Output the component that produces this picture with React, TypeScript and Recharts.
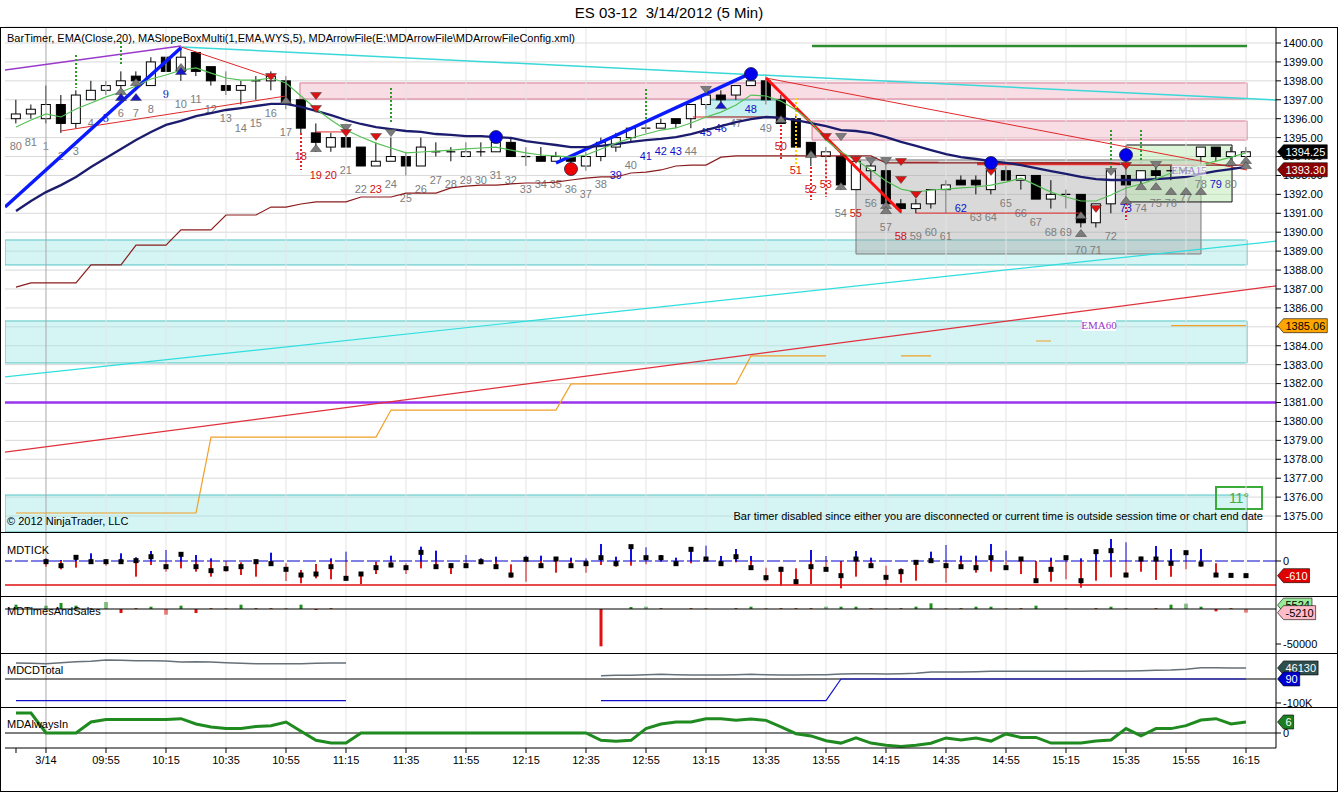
import React from 'react';
import {
  ComposedChart, Bar, Line, Scatter, XAxis, YAxis, CartesianGrid,
  ReferenceLine, ReferenceArea, ReferenceDot, Cell,
} from 'recharts';

const FONT = '"Liberation Sans", Arial, Helvetica, sans-serif';

// ---------- axis ranges ----------
const XMIN = -0.7333;
const XMAX = 84;
const YMIN = 1374.156;
const YMAX = 1400.846;

const PRICE_TICKS = [1375, 1376, 1377, 1378, 1379, 1380, 1381, 1382, 1383, 1384, 1385, 1386, 1387,
  1388, 1389, 1390, 1391, 1392, 1393, 1394, 1395, 1396, 1397, 1398, 1399, 1400];
const TIME_TICKS = [0, 2, 6, 10, 14, 18, 22, 26, 30, 34, 38, 42, 46, 50, 54, 58, 62, 66, 70, 74, 78, 82];
const TIME_LABELS = ['', '3/14', '09:55', '10:15', '10:35', '10:55', '11:15', '11:35', '11:55', '12:15',
  '12:35', '12:55', '13:15', '13:35', '13:55', '14:15', '14:35', '14:55', '15:15', '15:35', '15:55', '16:15'];
const GRID_X = [2, 6, 10, 14, 18, 22, 26, 30, 34, 38, 42, 46, 50, 54, 58, 62, 66, 70, 74, 78, 82];

// ---------- price bars ----------
const BAR_LABELS = ['80', '81', '1', '2', '3', '4', '5', '6', '7', '8', '9', '10', '11', '12', '13', '14', '15',
  '16', '17', '18', '19', '20', '21', '22', '23', '24', '25', '26', '27', '28', '29', '30', '31', '32', '33',
  '34', '35', '36', '37', '38', '39', '40', '41', '42', '43', '44', '45', '46', '47', '48', '49', '50', '51',
  '52', '53', '54', '55', '56', '57', '58', '59', '60', '61', '62', '63', '64', '65', '66', '67', '68', '69',
  '70', '71', '72', '73', '74', '75', '76', '77', '78', '79', '80', ''];
const BLUE_LABELS = ['5', '9', '39', '41', '42', '43', '45', '46', '48', '62', '73', '79'];
const RED_LABELS = ['18', '19', '20', '23', '50', '51', '52', '53', '55', '58'];

const BAR_OPEN = [1396.0, 1396.25, 1396.0, 1396.75, 1395.75, 1397.0, 1397.5, 1397.75, 1398.25, 1397.75,
  1399.25, 1398.5, 1399.5, 1398.75, 1397.75, 1397.5, 1398.0, 1398.0, 1398.0, 1397.0,
  1395.25, 1394.5, 1395.0, 1394.5, 1393.5, 1393.75, 1394.0, 1393.5, 1394.25, 1394.25,
  1394.0, 1394.25, 1394.25, 1394.75, 1394.0, 1394.0, 1393.75, 1394.0, 1393.5, 1394.0,
  1394.5, 1395.0, 1395.5, 1395.5, 1396.0, 1396.0, 1396.75, 1397.25, 1397.25, 1397.75,
  1398.0, 1397.0, 1396.0, 1394.75, 1394.0, 1394.0, 1392.25, 1393.25, 1393.25, 1391.5,
  1391.25, 1391.5, 1392.25, 1392.75, 1392.75, 1392.25, 1393.25, 1392.75, 1393.0, 1391.75,
  1392.0, 1392.0, 1390.5, 1391.5, 1393.0, 1392.75, 1393.25, 1393.25, 1393.25, 1394.0,
  1394.5, 1394.0, 1394.0];
const BAR_HIGH = [1397.0, 1396.75, 1397.75, 1397.25, 1397.5, 1398.0, 1398.0, 1398.5, 1398.5, 1399.25,
  1399.25, 1399.75, 1399.5, 1398.75, 1398.5, 1398.0, 1398.25, 1398.5, 1398.25, 1397.0,
  1395.75, 1395.25, 1395.25, 1394.5, 1394.75, 1395.0, 1394.25, 1395.0, 1394.75, 1394.5,
  1394.75, 1394.75, 1395.0, 1395.0, 1394.5, 1394.5, 1394.25, 1394.0, 1394.25, 1395.0,
  1395.25, 1395.5, 1395.75, 1396.0, 1396.0, 1396.75, 1397.5, 1397.5, 1397.75, 1398.25,
  1398.25, 1397.25, 1396.25, 1394.75, 1394.5, 1394.25, 1394.0, 1393.75, 1393.75, 1391.75,
  1391.75, 1392.25, 1392.75, 1393.0, 1393.0, 1393.5, 1393.5, 1393.0, 1393.0, 1392.75,
  1392.25, 1392.0, 1391.5, 1393.25, 1393.75, 1393.25, 1393.5, 1393.5, 1393.5, 1394.5,
  1394.5, 1394.5, 1394.5];
const BAR_LOW = [1395.75, 1396.0, 1395.75, 1395.25, 1395.5, 1397.0, 1397.25, 1397.5, 1397.5, 1397.75,
  1398.5, 1398.0, 1398.25, 1397.75, 1397.25, 1396.75, 1397.0, 1397.5, 1396.5, 1395.25,
  1394.25, 1394.25, 1394.5, 1393.5, 1393.5, 1393.75, 1393.0, 1393.5, 1394.0, 1393.75,
  1394.0, 1394.0, 1394.25, 1394.0, 1393.5, 1393.75, 1393.75, 1393.5, 1393.25, 1393.75,
  1394.25, 1394.75, 1395.25, 1395.5, 1395.5, 1395.5, 1396.5, 1396.75, 1397.0, 1397.75,
  1396.75, 1395.75, 1394.5, 1393.5, 1393.75, 1392.25, 1392.25, 1392.75, 1391.5, 1391.0,
  1391.0, 1391.25, 1391.0, 1392.5, 1392.0, 1392.0, 1392.75, 1392.25, 1391.75, 1391.25,
  1391.25, 1390.25, 1390.25, 1391.0, 1392.5, 1392.5, 1392.75, 1392.75, 1393.0, 1393.75,
  1393.75, 1393.75, 1393.75];
const BAR_CLOSE = [1396.25, 1396.5, 1396.75, 1395.75, 1397.25, 1397.5, 1397.75, 1398.0, 1398.0, 1399.0,
  1398.5, 1399.25, 1398.5, 1398.0, 1397.5, 1397.75, 1398.0, 1398.25, 1396.75, 1395.5,
  1394.75, 1395.0, 1394.5, 1393.5, 1393.75, 1394.0, 1393.5, 1394.5, 1394.25, 1394.25,
  1394.25, 1394.25, 1394.75, 1394.0, 1394.0, 1393.75, 1394.0, 1393.75, 1394.0, 1394.75,
  1395.0, 1395.5, 1395.5, 1395.75, 1395.75, 1396.75, 1397.25, 1397.0, 1397.75, 1398.0,
  1397.0, 1395.75, 1394.5, 1394.0, 1394.25, 1392.5, 1393.75, 1393.5, 1391.5, 1391.25,
  1391.5, 1392.25, 1392.5, 1392.5, 1392.5, 1393.25, 1392.75, 1393.0, 1391.75, 1392.0,
  1392.0, 1390.5, 1391.5, 1393.25, 1392.5, 1393.25, 1393.0, 1393.25, 1393.25, 1394.5,
  1394.0, 1394.25, 1394.25];

// ---------- main-panel indicator lines ----------
const EMA20 = [1391.12, 1391.65, 1392.12, 1392.49, 1392.92, 1393.45, 1393.92, 1394.40, 1394.87, 1395.30,
  1395.67, 1395.88, 1396.14, 1396.30, 1396.46, 1396.56, 1396.67, 1396.78, 1396.78, 1396.62,
  1396.41, 1396.19, 1395.93, 1395.72, 1395.56, 1395.45, 1395.35, 1395.30, 1395.19, 1395.14,
  1395.08, 1395.08, 1395.03, 1394.98, 1394.82, 1394.71, 1394.61, 1394.50, 1394.50, 1394.56,
  1394.66, 1394.77, 1394.87, 1394.93, 1395.03, 1395.19, 1395.40, 1395.61, 1395.82, 1395.98,
  1396.09, 1396.04, 1395.93, 1395.77, 1395.61, 1395.40, 1395.35, 1395.24, 1395.03, 1394.77,
  1394.56, 1394.34, 1394.13, 1393.97, 1393.87, 1393.76, 1393.66, 1393.55, 1393.39, 1393.23,
  1393.08, 1392.92, 1392.81, 1392.76, 1392.76, 1392.76, 1392.81, 1392.86, 1392.92, 1393.08,
  1393.23, 1393.34, 1393.45];
const EMA_FAST = [1395.56, 1395.93, 1396.25, 1396.09, 1396.51, 1396.83, 1397.15, 1397.41, 1397.73, 1398.10,
  1398.31, 1398.57, 1398.68, 1398.41, 1398.15, 1398.04, 1398.04, 1398.15, 1397.89, 1397.20,
  1396.51, 1395.93, 1395.40, 1395.03, 1394.71, 1394.45, 1394.19, 1394.24, 1394.29, 1394.34,
  1394.40, 1394.45, 1394.50, 1394.34, 1394.19, 1394.08, 1394.03, 1393.97, 1394.08, 1394.40,
  1394.71, 1394.98, 1395.19, 1395.40, 1395.51, 1395.77, 1396.09, 1396.35, 1396.72, 1397.25,
  1397.20, 1396.93, 1396.46, 1395.82, 1394.87, 1394.24, 1393.82, 1393.29, 1392.71, 1392.28,
  1392.12, 1392.23, 1392.28, 1392.34, 1392.39, 1392.49, 1392.65, 1392.86, 1392.49, 1392.12,
  1391.86, 1391.65, 1391.65, 1391.97, 1392.34, 1392.55, 1392.81, 1393.13, 1393.39, 1393.55,
  1393.76, 1393.97, 1394.19];
const STOP_LINE = [1387.10, 1387.32, 1387.32, 1387.32, 1387.32, 1388.27, 1388.27, 1388.27, 1389.32, 1389.32,
  1389.32, 1390.12, 1390.12, 1390.12, 1390.91, 1390.91, 1390.91, 1391.33, 1391.33, 1391.49,
  1391.60, 1391.60, 1391.60, 1391.86, 1391.86, 1391.86, 1392.07, 1392.07, 1392.07, 1392.34,
  1392.44, 1392.49, 1392.49, 1392.55, 1392.60, 1392.60, 1392.65, 1392.76, 1392.86, 1392.92,
  1392.92, 1393.13, 1393.18, 1393.29, 1393.50, 1393.55, 1393.55, 1393.97, 1394.03, 1394.03,
  1394.03, 1394.03, 1394.03, 1394.03, 1394.03, 1394.03, 1394.03, 1394.03, 1393.66, 1393.66,
  1393.66, 1393.66, 1393.66, 1393.66, 1393.66, 1393.66, 1393.66, 1393.66, 1393.66, 1393.66,
  1393.66, 1393.66, 1393.66, 1393.66, 1393.55, 1393.55, 1393.55, 1393.55, 1393.55, 1393.55,
  1393.55, 1393.55, 1393.55];
const ORANGE_LINE = [1375.16, 1375.16, 1375.16, 1375.16, 1375.16, 1375.16, 1375.16, 1375.16, 1375.16, 1375.16,
  1375.16, 1375.16, 1375.16, 1379.17, 1379.17, 1379.17, 1379.17, 1379.17, 1379.17, 1379.17,
  1379.17, 1379.17, 1379.17, 1379.17, 1379.17, 1380.60, 1380.60, 1380.60, 1380.60, 1380.60,
  1380.60, 1380.60, 1380.60, 1380.60, 1380.60, 1380.60, 1380.60, 1381.98, 1381.98, 1381.98,
  1381.98, 1381.98, 1381.98, 1381.98, 1381.98, 1381.98, 1381.98, 1381.98, 1381.98, 1383.46,
  1383.46, 1383.46, 1383.46, 1383.46, 1383.46, null, null, null, null, 1383.46,
  1383.46, 1383.46, null, null, null, null, null, null, 1384.25, 1384.25,
  null, null, null, null, null, null, null, 1385.06, 1385.06, 1385.06,
  1385.06, 1385.06, 1385.06];

// ---------- markers (bar index, price, kind) ----------
const MARKERS = [
  { i: 7, p: 1397.46, k: 'gu' }, { i: 8, p: 1397.94, k: 'gu' }, { i: 11, p: 1398.73, k: 'gu' },
  { i: 18, p: 1396.99, k: 'gu' }, { i: 20, p: 1394.45, k: 'gu' }, { i: 51, p: 1395.98, k: 'gu' },
  { i: 53, p: 1394.13, k: 'gu' }, { i: 55, p: 1392.44, k: 'gu' }, { i: 58, p: 1391.44, k: 'gu' },
  { i: 58, p: 1391.17, k: 'gu' }, { i: 71, p: 1390.91, k: 'gu' }, { i: 71, p: 1389.96, k: 'gu' },
  { i: 74, p: 1391.70, k: 'gu' }, { i: 75, p: 1392.44, k: 'gu' }, { i: 76, p: 1392.44, k: 'gu' },
  { i: 77, p: 1392.18, k: 'gu' }, { i: 78, p: 1392.18, k: 'gu' }, { i: 79, p: 1392.18, k: 'gu' },
  { i: 81, p: 1393.71, k: 'gu' }, { i: 82, p: 1393.82, k: 'gu' }, { i: 82, p: 1393.55, k: 'gu' },
  { i: 22, p: 1395.51, k: 'gd' }, { i: 25, p: 1395.24, k: 'gd' }, { i: 46, p: 1397.52, k: 'gd' },
  { i: 55, p: 1395.03, k: 'gd' }, { i: 57, p: 1393.76, k: 'gd' }, { i: 58, p: 1393.76, k: 'gd' },
  { i: 73, p: 1393.18, k: 'gd' }, { i: 76, p: 1393.55, k: 'gd' },
  { i: 7, p: 1397.15, k: 'bu' }, { i: 8, p: 1397.15, k: 'bu' }, { i: 11, p: 1398.52, k: 'bu' },
  { i: 47, p: 1396.72, k: 'bu' },
  { i: 17, p: 1398.20, k: 'rd' }, { i: 20, p: 1397.20, k: 'rd' }, { i: 20, p: 1396.51, k: 'rd' },
  { i: 22, p: 1395.24, k: 'rd' }, { i: 24, p: 1395.03, k: 'rd' }, { i: 54, p: 1395.03, k: 'rd' },
  { i: 56, p: 1393.82, k: 'rd' }, { i: 59, p: 1393.71, k: 'rd' }, { i: 59, p: 1392.76, k: 'rd' },
  { i: 60, p: 1391.97, k: 'rd' }, { i: 65, p: 1393.18, k: 'rd' }, { i: 72, p: 1391.23, k: 'rd' },
  { i: 74, p: 1393.5, k: 'rd' },
  { i: 32, p: 1395.03, k: 'bc' }, { i: 49, p: 1398.36, k: 'bc' }, { i: 65, p: 1393.66, k: 'bc' },
  { i: 74, p: 1394.08, k: 'bc' }, { i: 37, p: 1393.34, k: 'rc' },
];

// dotted signal lines: bar index, from price, to price, colour kind
const SIGNALS = [
  { i: 4, a: 1399.37, b: 1397.62, k: 'g' }, { i: 7, a: 1400.05, b: 1398.84, k: 'g' },
  { i: 25, a: 1397.62, b: 1395.82, k: 'g' }, { i: 42, a: 1397.57, b: 1395.93, k: 'g' },
  { i: 73, a: 1395.40, b: 1393.40, k: 'g' }, { i: 75, a: 1395.40, b: 1393.70, k: 'g' },
  { i: 19, a: 1395.24, b: 1393.29, k: 'r' }, { i: 51, a: 1395.67, b: 1393.82, k: 'r' },
  { i: 53, a: 1393.45, b: 1391.70, k: 'r' }, { i: 54, a: 1393.80, b: 1391.86, k: 'r' },
  { i: 74, a: 1391.54, b: 1390.65, k: 'r' }, { i: 52, a: 1397.09, b: 1393.45, k: 'y' },
];

// zones
const AREAS = [
  { x1: XMIN, x2: 82.07, y1: 1388.27, y2: 1389.59, k: 'cyan' },
  { x1: XMIN, x2: 82.07, y1: 1383.09, y2: 1385.31, k: 'cyan' },
  { x1: XMIN, x2: 82.07, y1: YMIN, y2: 1376.11, k: 'cyan' },
  { x1: 18.93, x2: 82.07, y1: 1397.04, y2: 1397.89, k: 'pink' },
  { x1: 53.07, x2: 82.07, y1: 1394.87, y2: 1395.88, k: 'pink' },
  { x1: 46, x2: 51.13, y1: 1396.09, y2: 1396.99, k: 'aqua' },
  { x1: 56, x2: 79, y1: 1388.85, y2: 1393.82, k: 'gray' },
  { x1: 74, x2: 81.07, y1: 1391.6, y2: 1394.61, k: 'green' },
  { x1: 80, x2: 83.07, y1: 1375.37, y2: 1376.53, k: 'note' },
];

// trend / channel lines (bar index, price)
const SEGMENTS = [
  { x1: XMIN, y1: 1378.38, x2: XMAX, y2: 1387.16, k: 'redLong' },
  { x1: XMIN, y1: 1382.35, x2: XMAX, y2: 1389.53, k: 'cyanLong' },
  { x1: 11, y1: 1399.79, x2: XMAX, y2: 1396.99, k: 'cyanTop' },
  { x1: XMIN, y1: 1398.57, x2: 11, y2: 1399.84, k: 'purple' },
  { x1: 11, y1: 1399.79, x2: 17, y2: 1398.2, k: 'redThin' },
  { x1: 3, y1: 1395.35, x2: 18, y2: 1397.2, k: 'redThin' },
  { x1: 50, y1: 1398.15, x2: 82.07, y2: 1393.29, k: 'redThin' },
  { x1: 20, y1: 1395.3, x2: 22, y2: 1395.3, k: 'redThin' },
  { x1: 45.13, y1: 1396.09, x2: 50.73, y2: 1396.09, k: 'redThin' },
  { x1: 60, y1: 1391.01, x2: 71, y2: 1391.01, k: 'redThin' },
  { x1: 59.2, y1: 1393.7, x2: 61.5, y2: 1393.7, k: 'redThin' },
  { x1: 64.07, y1: 1393.62, x2: 73.6, y2: 1393.62, k: 'redThick' },
  { x1: 53.07, y1: 1399.84, x2: 82.07, y2: 1399.84, k: 'green' },
  { x1: XMIN, y1: 1391.33, x2: 11, y2: 1399.75, k: 'blue' },
  { x1: 36, y1: 1393.66, x2: 49, y2: 1398.41, k: 'blue' },
  { x1: 50, y1: 1398.15, x2: 59, y2: 1391.07, k: 'red' },
];

const NOTES = [
  { i: 72.2, p: 1385.1, text: 'EMA60', k: 'ema60' },
  { i: 78.2, p: 1393.29, text: 'EMA15', k: 'ema15' },
  { i: 81.53, p: 1375.95, text: '11°', k: 'deg' },
];

// ---------- last-value tags per panel ----------
const MAIN_TAGS = [
  { v: 1385.06, text: '1385.06', bg: '#ffa500', fg: '#000' },
  { v: 1393.3, text: '1393.30', bg: '#8b0000', fg: '#fff' },
  { v: 1394.25, text: '1394.25', bg: '#000', fg: '#fff' },
];
const TICK_TAGS = [{ v: -610, text: '-610', bg: '#e00000', fg: '#fff' }];
const TS_TAGS = [
  { v: 5524, text: '5524', bg: '#98ec98', fg: '#000' },
  { v: -5210, text: '-5210', bg: '#ffbcc8', fg: '#000' },
];
const CD_TAGS = [
  { v: 46130, text: '46130', bg: '#2f4f4f', fg: '#fff' },
  { v: 90, text: '90', bg: '#0000cc', fg: '#fff' },
];
const AI_TAGS = [{ v: 6, text: '6', bg: '#1e7d1e', fg: '#fff' }];

// ---------- sub-panel series ----------
const TICK_HI = [null, null, 111, 42, 180, 320, 70, 320, 153, 417,
  459, 361, 250, 111, 0, -56, 56, 347, -97, -375,
  -125, 111, 389, -514, -28, 222, -97, 598, 431, -97,
  250, 111, 180, -139, 222, 222, 153, 139, 111, 709,
  180, 639, 570, 250, 139, 528, 639, 208, 500, 208,
  -278, -236, -306, 459, 208, 0, 417, 139, -195, -306,
  42, 389, 667, 222, 222, 709, 431, 111, 0, 139,
  180, 111, 459, 917, 778, 180, 625, 500, 417, 500,
  -97, null, null];
const TICK_LO = [null, null, -236, -347, -278, -28, -195, -28, -653, -167,
  -445, -306, -445, -653, -445, -584, -653, -139, -834, -931,
  -722, -764, -834, -959, -542, -264, -542, -306, -306, -542,
  -236, -139, -306, -695, -861, -278, -486, -278, -486, -167,
  -236, -195, -139, -28, -167, -97, 0, -167, -56, -306,
  -861, -1028, -973, -959, -347, -1139, -653, -236, -1028, -903,
  -820, -28, -903, -334, -486, -445, -306, -542, -889, -861,
  -764, -1111, -820, -681, -681, -445, -792, -653, -347, -236,
  -584, null, null];
const TICK_CLOSE = [null, null, -28, -195, 153, -28, -28, -28, 14, 180,
  -236, 278, -236, -403, -320, -236, -28, -111, -347, -584,
  -542, -236, -722, -542, -278, -167, -278, 361, -236, -195,
  -195, -28, -236, -584, 70, -195, 83, -195, -111, 139,
  -111, 598, 139, 139, -111, 486, 83, -111, 180, -278,
  -695, -347, -861, -236, -347, -611, 83, -195, -681, -445,
  -56, 14, -195, -236, -278, 139, -278, 83, -820, -347,
  139, -820, 389, 431, -584, 83, 83, -97, 347, -125,
  -584, -600, -610];
const TIMES_SALES = [6190, 1430, 4760, 8570, 4760, 1430, 10000, -5710, 1430, 3330,
  -8100, 4760, -5710, 1430, 1430, 6190, 1430, 1430, 1430, 6190,
  -1430, 1430, null, null, null, null, null, null, null, null,
  null, null, null, null, null, null, null, null, null, -53300,
  null, 2860, 3330, 1430, null, 1430, 1430, null, 1430, 3330,
  1430, 1430, 1430, 1430, 3330, 3330, 3330, 1430, 1430, 1430,
  3330, 8100, 1430, 1430, 3330, 3330, 1430, 1430, 4760, null,
  1430, null, 1430, 3330, 1430, null, 1430, 6190, 7620, 3330,
  -3330, 1430, -5210];
const CD_TOTAL = [66700, 65300, 63900, 68000, 72200, 73600, 79200, 77800, 76400, 76400,
  75000, 70800, 72200, 70800, 68000, 65300, 63900, 63900, 63900, 63900,
  65300, 66700, 66700, null, null, null, null, null, null, null,
  null, null, null, null, null, null, null, null, null, 13900,
  15300, 15300, 18000, 19400, 18000, 16700, 16700, 16700, 18000, 19400,
  18000, 16700, 16700, 18000, 18000, 20800, 22200, 22200, 20800, 22200,
  23600, 29200, 29200, 29200, 30600, 32000, 32000, 32000, 32000, 32000,
  32000, 32000, 33300, 33300, 33300, 34700, 36100, 37500, 40300, 47000,
  46500, 46200, 46130];
const CD_BASE = [-90300, -90300, -90300, -90300, -90300, -90300, -90300, -90300, -90300, -90300,
  -90300, -90300, -90300, -90300, -90300, -90300, -90300, -90300, -90300, -90300,
  -90300, -90300, -90300, null, null, null, null, null, null, null,
  null, null, null, null, null, null, null, null, null, -90300,
  -90300, -90300, -90300, -90300, -90300, -90300, -90300, -90300, -90300, -90300,
  -90300, -90300, -90300, -90300, -90300, 90, 90, 90, 90, 90,
  90, 90, 90, 90, 90, 90, 90, 90, 90, 90,
  90, 90, 90, 90, 90, 90, 90, 90, 90, 90,
  90, 90, 90];
const ALWAYS_IN = [10.9, 10.9, 0, 0, 0, 6, 7.3, 7.3, 7.3, 7.3,
  7.3, 7.8, 4.9, 3.3, 2.4, 2.4, 3.5, 4, 6, 0.9,
  -4, -5.5, -5.5, 0, 0, 0, 0, 0, 0, 0,
  0, 0, 0, 0, 0, 0, 0, 0, 0, -4,
  -4.5, -4, 2.4, 4.9, 6, 6, 7.8, 7.8, 6.9, 7.6,
  6.9, 3.3, -0.4, -1.6, -4.2, -5.5, -2.7, -5.5, -6.7, -7.3,
  -6.7, -5.6, -2.7, -3.8, -2.7, -4.4, -0.5, -2.4, -2.4, -5.5,
  -5.5, -5.5, -4.4, -3.8, 2.4, -1.6, 2.4, 2.4, 4, 7.1,
  7.8, 4.9, 6];

// ---------- rows ----------
const rows = BAR_OPEN.map((o, i) => ({
  i, o, h: BAR_HIGH[i], l: BAR_LOW[i], c: BAR_CLOSE[i],
  label: BAR_LABELS[i], ema: EMA20[i], fast: EMA_FAST[i], stop: STOP_LINE[i], orange: ORANGE_LINE[i],
  thi: TICK_HI[i], tlo: TICK_LO[i], tc: TICK_CLOSE[i], ts: TIMES_SALES[i],
  cd: CD_TOTAL[i], cdb: CD_BASE[i], ai: ALWAYS_IN[i],
}));

// ---------- panel geometry ----------
const W = 1338;
const PANELS = {
  main: { top: 0, height: 532, marginTop: 27, domain: [YMIN, YMAX] },
  tick: { top: 532, height: 64, marginTop: 0, domain: [-1458.3, 1208.3] },
  ts: { top: 596, height: 57, marginTop: 0, domain: [-62857, 18571] },
  cd: { top: 653, height: 54, marginTop: 0, domain: [-116667, 108333] },
  ai: { top: 707, height: 41, marginTop: 0, domain: [-8.18, 14.18] },
};

// ---------- styles ----------
const AREA_STYLE: Record<string, any> = {
  cyan: { fill: '#9ce8e8', fillOpacity: 0.42, stroke: '#55c4c4', strokeWidth: 1 },
  pink: { fill: '#f2b3c6', fillOpacity: 0.45, stroke: '#d77b97', strokeWidth: 1 },
  aqua: { fill: '#8fe3e3', fillOpacity: 0.5, stroke: '#3aa9a9', strokeWidth: 1 },
  gray: { fill: '#9a9a9a', fillOpacity: 0.38, stroke: '#7a7a7a', strokeWidth: 1 },
  green: { fill: '#b4e6a8', fillOpacity: 0.45, stroke: '#111', strokeWidth: 1 },
  note: { fill: '#ffffff', fillOpacity: 0, stroke: '#3aaa3a', strokeWidth: 2 },
};
const SEG_STYLE: Record<string, any> = {
  redLong: { stroke: '#e0303c', strokeWidth: 1.2 },
  cyanLong: { stroke: '#2fdede', strokeWidth: 1.2 },
  cyanTop: { stroke: '#3ad8d8', strokeWidth: 1.5 },
  purple: { stroke: '#9a3acb', strokeWidth: 1.5 },
  redThin: { stroke: '#e02828', strokeWidth: 1 },
  redThick: { stroke: '#e83030', strokeWidth: 3 },
  green: { stroke: '#2e8b2e', strokeWidth: 2.5 },
  blue: { stroke: '#0a1aff', strokeWidth: 3.5 },
  red: { stroke: '#ff1010', strokeWidth: 3 },
};
const SIGNAL_COLOR: Record<string, string> = { g: '#2e9a2e', r: '#e82020', y: '#ffd400' };

const textWidth = (s: string) => {
  let w = 0;
  for (const ch of s) w += ch === '.' ? 3.06 : ch === '-' ? 3.66 : 6.12;
  return w;
};

const Tag = (props: any) => {
  const { cx, cy, text, bg, fg } = props;
  if (cx == null || cy == null) return null;
  const tip = cx + 1.5;
  const bx = tip + 6;
  const w = textWidth(text) + 4;
  const h = 7;
  return (
    <g>
      <polygon points={`${tip},${cy} ${bx},${cy - h} ${bx + w},${cy - h} ${bx + w},${cy + h} ${bx},${cy + h}`}
        fill={bg} stroke="#000" strokeWidth={0.6} />
      <text x={bx + 2} y={cy} dominantBaseline="central" fontSize={11} fill={fg}>{text}</text>
    </g>
  );
};

const Candle = (props: any) => {
  const { x, y, width, height, payload } = props;
  if (payload == null || x == null || y == null) return null;
  const yHi = Math.min(y, y + height);
  const yLo = Math.max(y, y + height);
  const span = payload.h - payload.l;
  const yOf = (p: number) => (span > 0 ? yHi + ((payload.h - p) / span) * (yLo - yHi) : yHi);
  const cx = x + width / 2;
  const yo = yOf(payload.o);
  const yc = yOf(payload.c);
  const top = Math.min(yo, yc);
  const bot = Math.max(yo, yc);
  const up = payload.c >= payload.o;
  const bw = 9;
  const lab = payload.label;
  const labColor = BLUE_LABELS.includes(lab) ? '#1010c8' : RED_LABELS.includes(lab) ? '#d01010' : '#7d7d7d';
  return (
    <g>
      <line x1={cx} x2={cx} y1={yHi} y2={yLo} stroke="#000" strokeWidth={1} />
      {bot - top < 0.8 ? (
        <line x1={cx - bw / 2} x2={cx + bw / 2} y1={top} y2={top} stroke="#000" strokeWidth={1.2} />
      ) : (
        <rect x={cx - bw / 2} y={top} width={bw} height={bot - top} fill={up ? '#fff' : '#000'} stroke="#000" strokeWidth={1} />
      )}
      {lab ? (
        <text x={cx} y={yLo + 23} textAnchor="middle" dominantBaseline="central" fontSize={11} fill={labColor}>{lab}</text>
      ) : null}
    </g>
  );
};

const Marker = (props: any) => {
  const { cx, cy, payload } = props;
  if (cx == null || cy == null) return null;
  const k = payload.k;
  if (k === 'bc' || k === 'rc') {
    return <circle cx={cx} cy={cy} r={6.5} fill={k === 'bc' ? '#0000ee' : '#ee0000'} stroke="#202040" strokeWidth={0.8} />;
  }
  const up = k === 'gu' || k === 'bu';
  const fill = k[0] === 'g' ? '#7c7c7c' : k[0] === 'b' ? '#1616cc' : '#dd1111';
  const pts = up
    ? `${cx - 5.5},${cy + 3.5} ${cx + 5.5},${cy + 3.5} ${cx},${cy - 3.5}`
    : `${cx - 5.5},${cy - 3.5} ${cx + 5.5},${cy - 3.5} ${cx},${cy + 3.5}`;
  return <polygon points={pts} fill={fill} stroke="#3a3a3a" strokeWidth={0.5} />;
};

const Note = (props: any) => {
  const { cx, cy, payload } = props;
  if (cx == null || cy == null) return null;
  if (payload.k === 'deg') {
    return <text x={cx} y={cy} textAnchor="middle" dominantBaseline="central" fontSize={14} fill="#44aa44">{payload.text}</text>;
  }
  const color = payload.k === 'ema60' ? '#9933cc' : '#9a80d2';
  return (
    <g>
      <rect x={cx - 17} y={cy - 6} width={34} height={12} fill="#fff" fillOpacity={payload.k === 'ema60' ? 1 : 0.6} />
      <text x={cx} y={cy} textAnchor="middle" dominantBaseline="central" fontSize={11}
        fontFamily='"Liberation Serif", "DejaVu Serif", serif' fill={color}>{payload.text}</text>
    </g>
  );
};

const TickBar = (props: any) => {
  const { x, y, width, height, payload } = props;
  if (payload == null || payload.thi == null || x == null || y == null) return null;
  const yHi = Math.min(y, y + height);
  const yLo = Math.max(y, y + height);
  const span = payload.thi - payload.tlo;
  const yZero = span > 0 ? yHi + (payload.thi / span) * (yLo - yHi) : yHi;
  const cx = x + width / 2;
  return (
    <g>
      {payload.thi > 0 ? <line x1={cx} x2={cx} y1={yHi} y2={Math.min(yZero, yLo)} stroke="#1010dd" strokeWidth={2} /> : null}
      {payload.tlo < 0 ? <line x1={cx} x2={cx} y1={Math.max(yZero, yHi)} y2={yLo} stroke="#e01818" strokeWidth={2} /> : null}
    </g>
  );
};

const Square = (props: any) => {
  const { cx, cy } = props;
  if (cx == null || cy == null) return null;
  return <rect x={cx - 2.5} y={cy - 2.5} width={5} height={5} fill="#000" />;
};

const tsColor = (v: number | null) => (v == null ? 'none' : v < 0 ? '#e01010' : v >= 2500 ? '#1f8f1f' : '#a0602a');

const MARGIN = { top: 0, right: 0, bottom: 0, left: 5 };

const xAxisHidden = (
  <XAxis dataKey="i" type="number" domain={[XMIN, XMAX]} allowDataOverflow ticks={TIME_TICKS} hide />
);

const vGrid = (prefix: string) =>
  GRID_X.map((gx) => (
    <ReferenceLine key={prefix + gx} x={gx} stroke={gx === 2 ? '#a8a8a8' : '#e4e4e4'} strokeWidth={1} />
  ));

const yAxisProps = {
  orientation: 'right' as const,
  width: 62,
  allowDataOverflow: true,
  interval: 0 as const,
  tickSize: 5,
  tickMargin: 2,
  tick: { fontSize: 11, fill: '#000' },
  axisLine: { stroke: '#000' },
  tickLine: { stroke: '#000' },
};

// overlay with the last-value tags, drawn above the axis tick labels
const TagLayer = ({ panel, tags }: { panel: any; tags: any[] }) => (
  <div style={{ position: 'absolute', left: 0, top: panel.top, pointerEvents: 'none' }}>
    <ComposedChart width={W} height={panel.height} data={rows}
      margin={{ top: panel.marginTop, right: 62, bottom: 0, left: 5 }}>
      {xAxisHidden}
      <YAxis hide domain={panel.domain} allowDataOverflow />
      {tags.map((t, n) => (
        <ReferenceDot key={'tag' + n} x={XMAX} y={t.v} r={0} ifOverflow="visible"
          shape={(p: any) => <Tag {...p} text={t.text} bg={t.bg} fg={t.fg} />} />
      ))}
    </ComposedChart>
  </div>
);

const textStyle: React.CSSProperties = {
  position: 'absolute', fontSize: 11, lineHeight: '13px', color: '#000', whiteSpace: 'pre', pointerEvents: 'none',
};

export default function App() {
  return (
    <div style={{ position: 'absolute', left: 0, top: 0, width: W, height: 792, background: '#fff', fontFamily: FONT, overflow: 'hidden' }}>
      {/* ---------- main price panel ---------- */}
      <div style={{ position: 'absolute', left: 0, top: 0 }}>
        <ComposedChart width={W} height={532} data={rows} margin={{ ...MARGIN, top: 27 }}>
          {xAxisHidden}
          <YAxis {...yAxisProps} domain={PANELS.main.domain} ticks={PRICE_TICKS} tickFormatter={(v: number) => v.toFixed(2)} />
          <CartesianGrid vertical={false} stroke="#d9d9d9" />
          {vGrid('m')}
          {AREAS.map((a, n) => (
            <ReferenceArea key={'a' + n} x1={a.x1} x2={a.x2} y1={a.y1} y2={a.y2} ifOverflow="hidden" {...AREA_STYLE[a.k]} />
          ))}
          <ReferenceLine y={1381} stroke="#9a33ee" strokeWidth={2.5} />
          {SEGMENTS.map((s, n) => (
            <ReferenceLine key={'s' + n} segment={[{ x: s.x1, y: s.y1 }, { x: s.x2, y: s.y2 }]} ifOverflow="hidden" {...SEG_STYLE[s.k]} />
          ))}
          {SIGNALS.map((s, n) => (
            <ReferenceLine key={'g' + n} segment={[{ x: s.i, y: s.a }, { x: s.i, y: s.b }]} ifOverflow="hidden"
              stroke={SIGNAL_COLOR[s.k]} strokeWidth={2} strokeDasharray="2 2" />
          ))}
          <Line dataKey="orange" stroke="#f0a028" strokeWidth={1.2} dot={false} isAnimationActive={false} connectNulls={false} />
          <Line dataKey="stop" stroke="#8b1c1c" strokeWidth={1.2} dot={false} isAnimationActive={false} />
          <Line dataKey="ema" stroke="#1c1c6e" strokeWidth={2.3} dot={false} isAnimationActive={false} />
          <Line dataKey="fast" stroke="#56c056" strokeWidth={1.2} dot={false} isAnimationActive={false} />
          <Bar dataKey={(d: any) => [d.l, d.h]} barSize={9} shape={Candle} isAnimationActive={false} />
          <Scatter data={MARKERS} dataKey="p" shape={Marker} isAnimationActive={false} />
          <Scatter data={NOTES} dataKey="p" shape={Note} isAnimationActive={false} />
        </ComposedChart>
      </div>

      {/* ---------- MDTICK ---------- */}
      <div style={{ position: 'absolute', left: 0, top: PANELS.tick.top }}>
        <ComposedChart width={W} height={PANELS.tick.height} data={rows} margin={MARGIN}>
          {xAxisHidden}
          <YAxis {...yAxisProps} domain={PANELS.tick.domain} ticks={[0]} />
          {vGrid('t')}
          <ReferenceLine y={0} stroke="#0000cc" strokeWidth={1.2} strokeDasharray="13 3" />
          <ReferenceLine y={-1000} stroke="#e01010" strokeWidth={1.3} />
          <Bar dataKey={(d: any) => (d.thi == null ? null : [d.tlo, d.thi])} barSize={3} shape={TickBar} isAnimationActive={false} />
          <Scatter dataKey="tc" shape={Square} isAnimationActive={false} />
        </ComposedChart>
      </div>

      {/* ---------- MDTimesAndSales ---------- */}
      <div style={{ position: 'absolute', left: 0, top: PANELS.ts.top }}>
        <ComposedChart width={W} height={PANELS.ts.height} data={rows} margin={MARGIN}>
          {xAxisHidden}
          <YAxis {...yAxisProps} domain={PANELS.ts.domain} ticks={[-50000]} />
          {vGrid('s')}
          <ReferenceLine y={0} stroke="#000" strokeWidth={1.2} />
          <Bar dataKey="ts" barSize={3} isAnimationActive={false}>
            {rows.map((r) => <Cell key={'c' + r.i} fill={tsColor(r.ts)} />)}
          </Bar>
        </ComposedChart>
      </div>

      {/* ---------- MDCDTotal ---------- */}
      <div style={{ position: 'absolute', left: 0, top: PANELS.cd.top }}>
        <ComposedChart width={W} height={PANELS.cd.height} data={rows} margin={MARGIN}>
          {xAxisHidden}
          <YAxis {...yAxisProps} domain={PANELS.cd.domain} ticks={[-100000]} tickFormatter={() => '-100K'} />
          {vGrid('d')}
          <ReferenceLine y={0} stroke="#000" strokeWidth={1.2} />
          <Line dataKey="cd" stroke="#667078" strokeWidth={1.5} dot={false} isAnimationActive={false} />
          <Line dataKey="cdb" stroke="#1010cc" strokeWidth={1.2} dot={false} isAnimationActive={false} />
        </ComposedChart>
      </div>

      {/* ---------- MDAlwaysIn + time axis ---------- */}
      <div style={{ position: 'absolute', left: 0, top: PANELS.ai.top }}>
        <ComposedChart width={W} height={85} data={rows} margin={MARGIN}>
          <XAxis dataKey="i" type="number" domain={[XMIN, XMAX]} allowDataOverflow ticks={TIME_TICKS} interval={0}
            tickFormatter={(v: number) => TIME_LABELS[TIME_TICKS.indexOf(v)] ?? ''} height={44} tickSize={5} tickMargin={3}
            tick={{ fontSize: 11, fill: '#000' }} axisLine={{ stroke: '#000' }} tickLine={{ stroke: '#000' }} />
          <YAxis {...yAxisProps} domain={PANELS.ai.domain} ticks={[0]} />
          {vGrid('w')}
          <ReferenceLine y={0} stroke="#000" strokeWidth={1.2} />
          <Line dataKey="ai" stroke="#1f8a1f" strokeWidth={3} dot={false} isAnimationActive={false} />
        </ComposedChart>
      </div>

      {/* ---------- value tags (above axis labels) ---------- */}
      <TagLayer panel={PANELS.main} tags={MAIN_TAGS} />
      <TagLayer panel={PANELS.tick} tags={TICK_TAGS} />
      <TagLayer panel={PANELS.ts} tags={TS_TAGS} />
      <TagLayer panel={PANELS.cd} tags={CD_TAGS} />
      <TagLayer panel={PANELS.ai} tags={AI_TAGS} />

      {/* ---------- frame ---------- */}
      <div style={{ position: 'absolute', left: 0, top: 27, width: W, height: 765, border: '1px solid #000', boxSizing: 'border-box', pointerEvents: 'none' }} />
      {[532, 596, 653, 707].map((t) => (
        <div key={'sep' + t} style={{ position: 'absolute', left: 0, top: t - 0.5, width: W, height: 1, background: '#000' }} />
      ))}

      {/* ---------- texts ---------- */}
      <div style={{ ...textStyle, left: 0, top: 4, width: W, textAlign: 'center', fontSize: 15, lineHeight: '18px' }}>
        {'ES 03-12  3/14/2012 (5 Min)'}
      </div>
      <div style={{ ...textStyle, left: 7, top: 32 }}>
        {'BarTimer, EMA(Close,20), MASlopeBoxMulti(1,EMA,WYS,5), MDArrowFile(E:\\MDArrowFile\\MDArrowFileConfig.xml)'}
      </div>
      <div style={{ ...textStyle, left: 7, top: 515 }}>{'© 2012 NinjaTrader, LLC'}</div>
      <div style={{ ...textStyle, left: 600, top: 510, width: 663, textAlign: 'right' }}>
        {'Bar timer disabled since either you are disconnected or current time is outside session time or chart end date'}
      </div>
      <div style={{ ...textStyle, left: 7, top: 544 }}>MDTICK</div>
      <div style={{ ...textStyle, left: 7, top: 605 }}>MDTimesAndSales</div>
      <div style={{ ...textStyle, left: 7, top: 664 }}>MDCDTotal</div>
      <div style={{ ...textStyle, left: 7, top: 718 }}>MDAlwaysIn</div>
    </div>
  );
}
